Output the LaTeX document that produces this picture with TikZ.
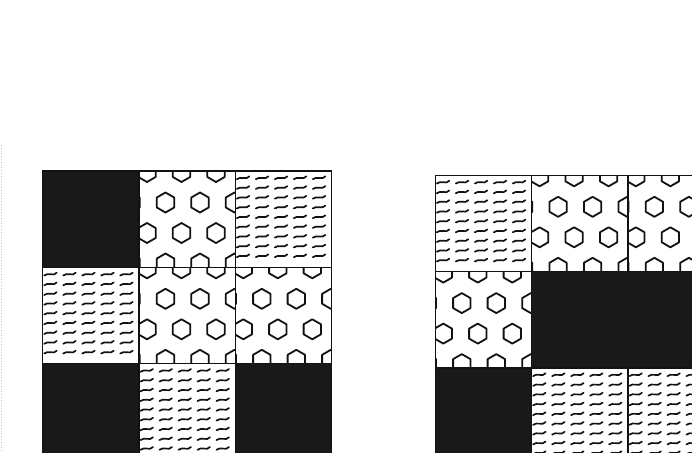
\documentclass[tikz,border=0pt]{standalone}
\usepackage{tikz}
\definecolor{scanblack}{HTML}{191919}
\definecolor{inkline}{HTML}{121212}
\definecolor{scangrey}{HTML}{C4C4C4}
\tikzset{
  tl edge/.style={draw=inkline, line width=1.4pt},
  tl dark/.style={fill=scanblack},
  tl hex/.style={draw=inkline, line width=1.8pt, line join=round},
  tl wave/.style={draw=inkline, line width=1.7pt, line cap=round},
  tl scan/.style={draw=scangrey, line width=0.8pt, dotted},
}

\begin{document}
\begin{tikzpicture}[x=1pt, y=-1pt]
  \path[use as bounding box, clip] (0,0) rectangle (692,452);
  \fill[white] (0,0) rectangle (692,452);
  \def\T{96.3}
  % kind: 0 = solid dark, 1 = hexagons, 2 = wavy dashes; \tn = tiles wide
  \foreach \gx/\gy/\tc/\tr/\tk/\tn in {42.7/171/0/0/0/1, 42.7/171/1/0/1/1, 42.7/171/2/0/2/1,
      42.7/171/0/1/2/1, 42.7/171/1/1/1/1, 42.7/171/2/1/1/1,
      42.7/171/0/2/0/1, 42.7/171/1/2/2/1, 42.7/171/2/2/0/1,
      435.3/175.3/0/0/2/1, 435.3/175.3/1/0/1/1, 435.3/175.3/2/0/1/1,
      435.3/175.3/0/1/1/1, 435.3/175.3/1/1/0/2,
      435.3/175.3/0/2/0/1, 435.3/175.3/1/2/2/1, 435.3/175.3/2/2/2/1} {
     \pgfmathsetmacro{\xa}{\gx+\tc*\T}
     \pgfmathsetmacro{\ya}{\gy+\tr*\T}
     \pgfmathsetmacro{\xb}{\xa+\tn*\T}
     \pgfmathsetmacro{\yb}{\ya+\T}
     \ifnum\tk=0
        \fill[tl dark] (\xa,\ya) rectangle (\xb,\yb);
     \fi
     \ifnum\tk=1
        \begin{scope}
          \clip (\xa,\ya) rectangle (\xb,\yb);
          \foreach \j in {0,...,3} {
            \foreach \i in {-1,...,3} {
              \pgfmathsetmacro{\hx}{\xa+8+18.5*mod(\j,2)+34.5*\i}
              \pgfmathsetmacro{\hy}{\ya+1+30.5*\j}
              \draw[tl hex] (\hx,\hy-10) -- ++(8.66,5) -- ++(0,10) -- ++(-8.66,5)
                 -- ++(-8.66,-5) -- ++(0,-10) -- cycle;
            }
          }
        \end{scope}
     \fi
     \ifnum\tk=2
        \foreach \i in {0,...,4} {
          \foreach \j in {0,...,8} {
            \draw[tl wave, shift={(\xa+1.5+19*\i,\ya+7+9.75*\j)}]
              (0,1.2) .. controls (1.5,0) and (4,-0.6) .. (7,0) .. controls (9,0.5) and (10.5,0.3) .. (12.5,-1.6);
          }
        }
     \fi
     \draw[tl edge] (\xa,\ya) rectangle (\xb,\yb);
  }
  \draw[tl scan] (1.5,145) -- (1.5,452);
\end{tikzpicture}
\end{document}
